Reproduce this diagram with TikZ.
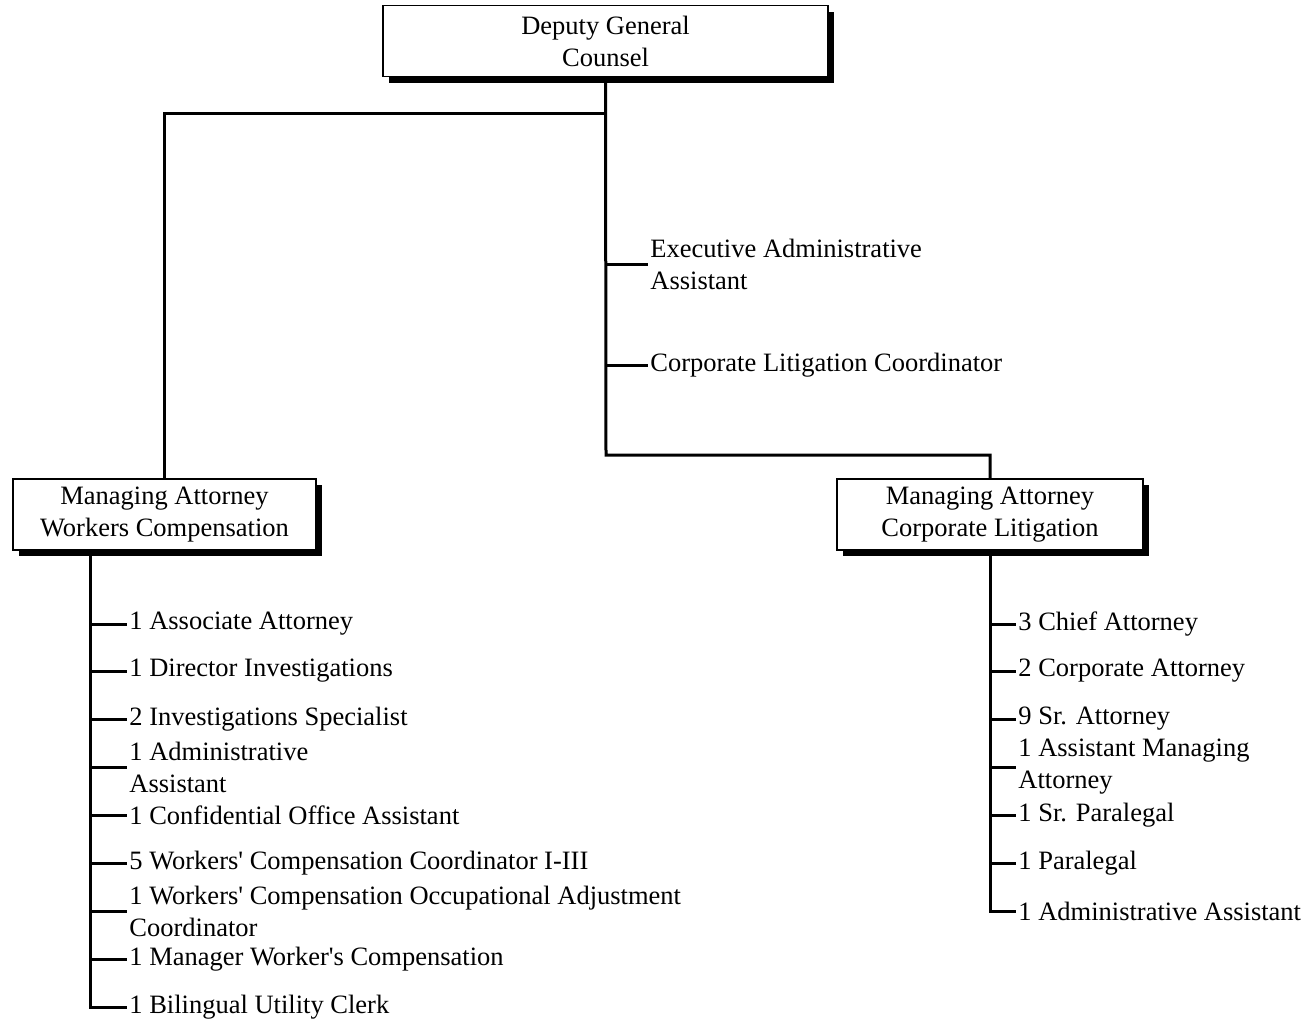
\documentclass[tikz,border=0pt]{standalone}
\usepackage{fontspec}
\setmainfont{Liberation Serif}
\usetikzlibrary{shadows}
\begin{document}
\begin{tikzpicture}[x=0.5pt,y=-0.5pt,
    font=\fontsize{13.25}{16}\selectfont,
    box/.style={draw,line width=0.6pt,fill=white,align=center,inner sep=0pt,
      minimum height=35.5pt,
      drop shadow={shadow xshift=3.2pt,shadow yshift=-3.2pt,fill=black,opacity=1}},
    item/.style={anchor=west,align=left,inner xsep=1pt,inner ysep=0pt},
    conn/.style={line width=1.5pt}]
    \useasboundingbox (0,0) rectangle (1307,1023);
    % boxes
    \node[box,minimum width=222.5pt] (dgc) at (605.5,41) {Deputy General\\Counsel};
    \node[box,minimum width=151.5pt] (mwc) at (164.5,514.5) {Managing Attorney\\Workers Compensation};
    \node[box,minimum width=153pt] (mcl) at (990,514.5) {Managing Attorney\\Corporate Litigation};
    \coordinate (j1) at (606,113);
    \coordinate (j2) at (606,455);
    % main lines
    \draw[conn] (dgc.south) -- (j2) -| (mcl.north);
    \draw[conn] (j1) -| (mwc.north);
    % staff
    \node[item] (eaa) at (648,264) {Executive Administrative\\Assistant};
    \node[item] (clc) at (648,365) {Corporate Litigation Coordinator};
    \draw[conn] (dgc.south |- eaa.west) -- (eaa.west);
    \draw[conn] (dgc.south |- clc.west) -- (clc.west);
    % workers compensation
    \coordinate (lbus) at (90,550);
    \foreach \n/\y/\t in {l1/624/{1 Associate Attorney},
        l2/671/{1 Director Investigations},
        l3/719/{2 Investigations Specialist},
        l4/767/{1 Administrative\\Assistant},
        l5/815/{1 Confidential Office Assistant},
        l6/863/{5 Workers\textquotesingle{} Compensation Coordinator I-III},
        l7/911/{1 Workers\textquotesingle{} Compensation Occupational Adjustment\\Coordinator},
        l8/959/{1 Manager Worker\textquotesingle s Compensation},
        l9/1007/{1 Bilingual Utility Clerk}} {
      \node[item] (\n) at (127,\y) {\t};
      \draw[conn] (lbus |- \n.west) -- (\n.west);
    }
    \draw[conn] (lbus) |- (l9.west);
    % corporate litigation
    \foreach \n/\y/\t in {r1/624/{3 Chief Attorney},
        r2/671/{2 Corporate Attorney},
        r3/719/{9 Sr. Attorney},
        r4/767/{1 Assistant Managing\\Attorney},
        r5/815/{1 Sr. Paralegal},
        r6/863/{1 Paralegal},
        r7/911/{1 Administrative Assistant}} {
      \node[item] (\n) at (1016,\y) {\t};
      \draw[conn] (mcl.south |- \n.west) -- (\n.west);
    }
    \draw[conn] (mcl.south) |- (r7.west);
\end{tikzpicture}
\end{document}
